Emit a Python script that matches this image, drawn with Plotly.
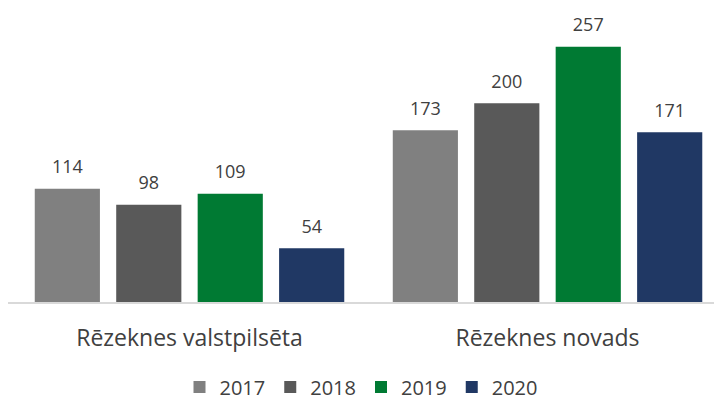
import plotly.graph_objects as go

# Data
regions = ["Rēzeknes valstpilsēta", "Rēzeknes novads"]
years = ["2017", "2018", "2019", "2020"]
values_2017 = [114, 173]
values_2018 = [98, 200]
values_2019 = [109, 257]
values_2020 = [54, 171]

series = [values_2017, values_2018, values_2019, values_2020]
colors = ["#808080", "#595959", "#007A33", "#203864"]

FONT = "Open Sans, Lato, sans-serif"
TEXT = "#404040"

fig = go.Figure()

for year, vals, col in zip(years, series, colors):
    fig.add_trace(go.Bar(
        x=regions, y=vals, name=year,
        marker=dict(color=col, line=dict(width=0)),
        offsetgroup=year, hoverinfo="skip",
    ))

# value labels sit above each bar, aligned via grouped scatter mode
for year, vals in zip(years, series):
    fig.add_trace(go.Scatter(
        x=regions, y=vals, text=[str(v) for v in vals],
        mode="markers+text", textposition="top center",
        marker=dict(size=16, color="rgba(0,0,0,0)"),
        textfont=dict(family=FONT, size=18, color=TEXT),
        offsetgroup=year, showlegend=False, hoverinfo="skip",
        cliponaxis=False,
    ))

fig.update_layout(
    width=714, height=401,
    margin=dict(l=8, r=0, t=10, b=99),
    paper_bgcolor="white", plot_bgcolor="white",
    barmode="group", bargap=0.09, bargroupgap=0.2,
    scattermode="group", scattergap=0.09,
    font=dict(family=FONT, color=TEXT),
    showlegend=True,
    legend=dict(
        orientation="h", x=0.5, xanchor="center",
        yref="container", y=0.035, yanchor="middle",
        font=dict(family=FONT, size=20, color=TEXT),
        itemwidth=30, traceorder="normal",
        tracegroupgap=0, borderwidth=0,
    ),
    xaxis=dict(
        range=[-0.507, 1.465],
        showline=True, linecolor="#d9d9d9", linewidth=2,
        ticks="outside", ticklen=14, tickcolor="rgba(0,0,0,0)",
        tickfont=dict(family=FONT, size=23, color=TEXT),
        showgrid=False, zeroline=False, fixedrange=True,
    ),
    yaxis=dict(
        range=[0, 294], visible=False, showgrid=False,
        zeroline=False, fixedrange=True,
    ),
)

fig.write_html("out.html")
